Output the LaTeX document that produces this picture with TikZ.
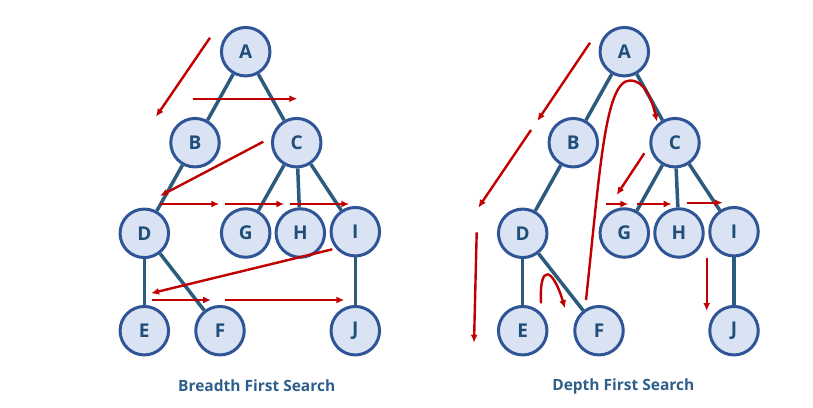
\documentclass[tikz,border=0pt]{standalone}
\usepackage{fontspec}
\setmainfont{Open Sans}
\usetikzlibrary{arrows.meta}
\definecolor{nodefill}{HTML}{DAE3F3}
\definecolor{nodeborder}{HTML}{2F5597}
\definecolor{edgecol}{HTML}{2B5C7E}
\definecolor{textcol}{HTML}{1F4E79}
\definecolor{titlecol}{HTML}{2E5F8A}
\definecolor{arrowred}{HTML}{C00000}
\tikzset{
  vertex/.style={circle, draw=nodeborder, fill=nodefill, line width=3pt,
    minimum size=48.5pt, inner sep=0pt, text=textcol,
    font=\fontsize{19}{19}\selectfont\bfseries},
  edge/.style={draw=edgecol, line width=3.5pt},
  trav/.style={draw=arrowred, line width=2.4pt, -{Latex[length=8pt,width=7pt]}},
  title/.style={text=titlecol, font=\fontsize{15.5}{16}\selectfont\bfseries}
}
\begin{document}
\begin{tikzpicture}[x=1pt,y=-1pt]
\useasboundingbox (0,0) rectangle (813,407);
% ---------- BFS tree ----------
\node[vertex] (A1) at (245.7,51.7) {A};
\node[vertex] (B1) at (195,142.7) {B};
\node[vertex] (C1) at (296.7,142.7) {C};
\node[vertex] (D1) at (144.3,233.3) {D};
\node[vertex] (G1) at (245.7,233) {G};
\node[vertex] (H1) at (300.3,233) {H};
\node[vertex] (I1) at (355.3,231.7) {I};
\node[vertex] (E1) at (144.3,330.7) {E};
\node[vertex] (F1) at (220,330.7) {F};
\node[vertex] (J1) at (355.3,330.7) {J};
\node[title] (T1) at (256.7,386) {Breadth First Search};
% ---------- DFS tree ----------
\node[vertex] (A2) at (624.3,51.7) {A};
\node[vertex] (B2) at (573.3,142.7) {B};
\node[vertex] (C2) at (675,142.7) {C};
\node[vertex] (D2) at (522.7,233.3) {D};
\node[vertex] (G2) at (624.3,233) {G};
\node[vertex] (H2) at (679,233) {H};
\node[vertex] (I2) at (734,231.7) {I};
\node[vertex] (E2) at (522.7,330.7) {E};
\node[vertex] (F2) at (599,330.7) {F};
\node[vertex] (J2) at (734,330.7) {J};
\node[title] (T2) at (623.3,386) {Depth First Search};
% ---------- edges ----------
\begin{scope}[on background layer/.style={}]
\foreach \s in {1,2}{
  \draw[edge] (A\s) -- (B\s);
  \draw[edge] (A\s) -- (C\s);
  \draw[edge] (B\s) -- (D\s);
  \draw[edge] (C\s) -- (G\s);
  \draw[edge] (C\s) -- (H\s);
  \draw[edge] (C\s) -- (I\s);
  \draw[edge] (D\s) -- (E\s);
  \draw[edge] (D\s) -- (F\s);
  \draw[edge] (I\s) -- (J\s);
}
\end{scope}
% ---------- BFS traversal arrows ----------
\coordinate (b1s) at (210,37.7);   \coordinate (b1e) at (156,116.7);
\coordinate (b2s) at (192.7,98.7); \coordinate (b2e) at (297.3,98.7);
\coordinate (b3s) at (263.3,141.7);\coordinate (b3e) at (160,196);
\coordinate (b4s) at (160,204);    \coordinate (b4e) at (219.3,204);
\coordinate (b5s) at (225,204);    \coordinate (b5e) at (284.3,204);
\coordinate (b6s) at (290,204);    \coordinate (b6e) at (349.3,204);
\coordinate (b7s) at (332.3,249.3);\coordinate (b7e) at (151,293.3);
\coordinate (b8s) at (151.7,300);  \coordinate (b8e) at (211,300);
\coordinate (b9s) at (225,300);    \coordinate (b9e) at (344.3,300);
\foreach \i in {1,...,9}{ \draw[trav] (b\i s) -- (b\i e); }
% ---------- DFS traversal arrows ----------
\coordinate (d1s) at (590,42.7);   \coordinate (d1e) at (537.3,121);
\coordinate (d2s) at (531,130);    \coordinate (d2e) at (478.3,207.7);
\coordinate (d3s) at (476.7,232.3);\coordinate (d3e) at (474,342.7);
\coordinate (d4s) at (541,303.3);  \coordinate (d4e) at (565,308.3);
\coordinate (d5s) at (586,300);    \coordinate (d5m) at (630,80.5);
\coordinate (d5e) at (657,121.7);
\coordinate (d6s) at (644.3,153.3);\coordinate (d6e) at (616.7,195);
\coordinate (d7s) at (605.7,204);  \coordinate (d7e) at (628.3,204);
\coordinate (d8s) at (636.7,204);  \coordinate (d8e) at (671.7,204);
\coordinate (d9s) at (687.3,202.7);\coordinate (d9e) at (722.7,202.7);
\coordinate (d10s) at (706.7,257.7);\coordinate (d10e) at (706.7,311);
\draw[trav] (d1s) -- (d1e);
\draw[trav] (d2s) -- (d2e);
\draw[trav] (d3s) -- (d3e);
\draw[trav] (d4s) .. controls (539,262) and (553,268) .. (d4e);
\draw[trav] (d5s) .. controls (600,170) and (605,80.5) .. (d5m)
                  .. controls (645,80.5) and (652,100) .. (d5e);
\draw[trav] (d6s) -- (d6e);
\draw[trav] (d7s) -- (d7e);
\draw[trav] (d8s) -- (d8e);
\draw[trav] (d9s) -- (d9e);
\draw[trav] (d10s) -- (d10e);
\end{tikzpicture}
\end{document}
